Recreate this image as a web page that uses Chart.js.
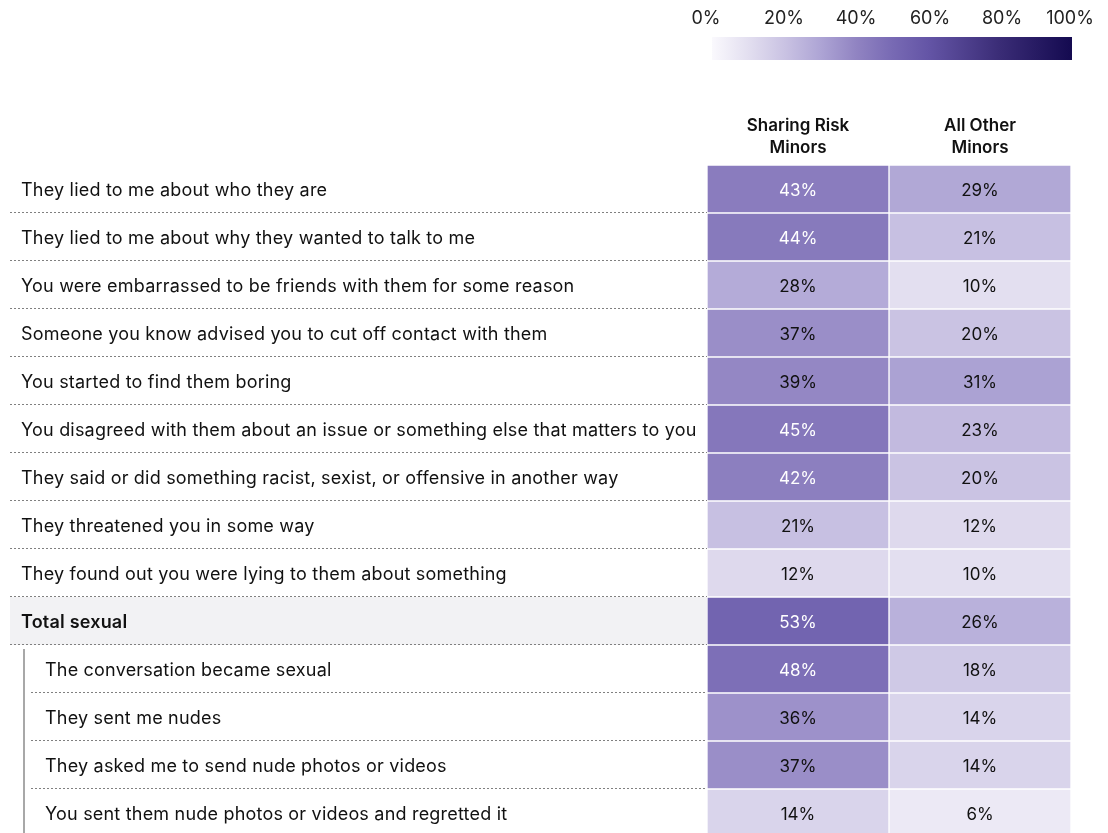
<!DOCTYPE html>
<html>
<head>
<meta charset="utf-8">
<script src="https://cdn.jsdelivr.net/npm/chart.js@4"></script>
<style>
  html, body { margin: 0; padding: 0; background: #fff; overflow: hidden; }
  #wrap { width: 1108px; height: 837px; }
</style>
</head>
<body>
<div id="wrap"><canvas id="heat" width="1108" height="837"></canvas></div>
<script>
// rows of the table, top to bottom
const rowLabels = [
  "They lied to me about who they are",
  "They lied to me about why they wanted to talk to me",
  "You were embarrassed to be friends with them for some reason",
  "Someone you know advised you to cut off contact with them",
  "You started to find them boring",
  "You disagreed with them about an issue or something else that matters to you",
  "They said or did something racist, sexist, or offensive in another way",
  "They threatened you in some way",
  "They found out you were lying to them about something",
  "Total sexual",
  "The conversation became sexual",
  "They sent me nudes",
  "They asked me to send nude photos or videos",
  "You sent them nude photos or videos and regretted it"
];
const sharingRisk = [43, 44, 28, 37, 39, 45, 42, 21, 12, 53, 48, 36, 37, 14];
const allOther    = [29, 21, 10, 20, 31, 23, 20, 12, 10, 26, 18, 14, 14, 6];
const columnHeaders = [["Sharing Risk", "Minors"], ["All Other", "Minors"]];
const totalRow = 9;
const subRows = [10, 11, 12, 13];
const legendTicks = [0, 20, 40, 60, 80, 100];

// colour ramp, 0..1
const colorStops = [
  [0.0, [250, 249, 253]],
  [0.1, [227, 223, 240]],
  [0.2, [202, 195, 227]],
  [0.3, [174, 165, 213]],
  [0.4, [145, 132, 194]],
  [0.5, [120, 106, 180]],
  [0.6, [100, 85, 166]],
  [0.8, [58, 44, 118]],
  [1.0, [20, 10, 80]]
];

function heatColor(pct) {
  const t = Math.max(0, Math.min(1, pct / 100));
  for (let i = 1; i < colorStops.length; i++) {
    const [t1, c1] = colorStops[i];
    const [t0, c0] = colorStops[i - 1];
    if (t <= t1) {
      const f = (t - t0) / (t1 - t0);
      const c = c0.map((v, k) => Math.round(v + (c1[k] - v) * f));
      return `rgb(${c[0]},${c[1]},${c[2]})`;
    }
  }
  return 'rgb(20,10,80)';
}

const FONT = 'Inter, "Noto Sans", sans-serif';

const tablePlugin = {
  id: 'tableBits',
  beforeDraw(chart) {
    const ctx = chart.ctx;
    const y = chart.scales.y;
    const area = chart.chartArea;
    const half = (y.getPixelForValue(1) - y.getPixelForValue(0)) / 2;

    // shaded total row
    const ty = y.getPixelForValue(totalRow);
    ctx.save();
    ctx.fillStyle = '#f2f2f4';
    ctx.fillRect(10, ty - half, area.left - 10, half * 2);

    // dashed row separators
    ctx.strokeStyle = '#808080';
    ctx.lineWidth = 1;
    ctx.setLineDash([2, 2]);
    rowLabels.forEach((_, i) => {
      const yy = Math.round(y.getPixelForValue(i) + half) - 0.5;
      const x0 = subRows.includes(i) ? 31 : 10;
      ctx.beginPath();
      ctx.moveTo(x0, yy);
      ctx.lineTo(area.left, yy);
      ctx.stroke();
    });
    ctx.setLineDash([]);

    // bracket line for the sub rows
    const sy0 = y.getPixelForValue(subRows[0]) - half + 4;
    ctx.strokeStyle = '#a8a8a8';
    ctx.lineWidth = 2;
    ctx.beginPath();
    ctx.moveTo(24, sy0);
    ctx.lineTo(24, chart.height);
    ctx.stroke();

    // row labels
    ctx.textBaseline = 'middle';
    ctx.textAlign = 'left';
    ctx.fillStyle = '#111';
    ctx.letterSpacing = '0.2px';
    rowLabels.forEach((label, i) => {
      const bold = i === totalRow;
      ctx.font = (bold ? '600 ' : '400 ') + '18px ' + FONT;
      const x = subRows.includes(i) ? 45 : 21;
      ctx.fillText(label, x, y.getPixelForValue(i) + 1.5);
    });
    ctx.letterSpacing = '0px';

    // colour legend
    const gx0 = 712, gx1 = 1072, gy = 37, gh = 23;
    const grad = ctx.createLinearGradient(gx0, 0, gx1, 0);
    colorStops.forEach(([t]) => grad.addColorStop(t, heatColor(t * 100)));
    ctx.fillStyle = grad;
    ctx.fillRect(gx0, gy, gx1 - gx0, gh);
    ctx.font = '400 18px ' + FONT;
    ctx.fillStyle = '#222';
    ctx.textAlign = 'center';
    legendTicks.forEach((v, i) => {
      let x = gx0 + (gx1 - gx0) * v / 100;
      if (i === 0) x -= 6;
      if (i === 3) x += 2;
      if (i === 4) x += 2;
      if (i === legendTicks.length - 1) x -= 2;
      ctx.fillText(v + '%', x, 19);
    });
    ctx.restore();
  },
  afterDatasetsDraw(chart) {
    const ctx = chart.ctx;
    ctx.save();
    ctx.font = '400 17px ' + FONT;
    ctx.textAlign = 'center';
    ctx.textBaseline = 'middle';
    chart.data.datasets.forEach((ds, di) => {
      chart.getDatasetMeta(di).data.forEach((bar, i) => {
        const v = ds.values[i];
        const p = bar.getCenterPoint();
        ctx.fillStyle = v >= 40 ? '#fff' : '#111';
        ctx.fillText(v + '%', p.x, p.y + 1.5);
      });
    });
    ctx.restore();
  }
};

function columnDataset(label, values, col) {
  return {
    label: label,
    values: values,
    data: values.map(() => [col, col + 1]),
    backgroundColor: values.map(heatColor),
    borderColor: '#fff',
    borderWidth: 1,
    borderSkipped: false,
    grouped: false,
    barPercentage: 1,
    categoryPercentage: 1
  };
}

new Chart(document.getElementById('heat'), {
  type: 'bar',
  data: {
    labels: rowLabels,
    datasets: [
      columnDataset('Sharing Risk Minors', sharingRisk, 0),
      columnDataset('All Other Minors', allOther, 1)
    ]
  },
  options: {
    indexAxis: 'y',
    responsive: false,
    animation: false,
    layout: { padding: { left: 707, right: 37, top: 0, bottom: 0 } },
    plugins: { legend: { display: false }, tooltip: { enabled: false } },
    scales: {
      x: {
        type: 'linear',
        position: 'top',
        min: 0,
        max: 2,
        grid: { display: false },
        border: { display: false },
        afterBuildTicks: s => { s.ticks = [{ value: 0.5 }, { value: 1.5 }]; },
        afterFit: s => { s.height = 165; },
        ticks: {
          callback: (v, i) => columnHeaders[i],
          color: '#111',
          font: { family: FONT, size: 17, weight: '600', lineHeight: 1.3 },
          maxRotation: 0,
          padding: -2
        }
      },
      y: { display: false }
    }
  },
  plugins: [tablePlugin]
});
</script>
</body>
</html>
